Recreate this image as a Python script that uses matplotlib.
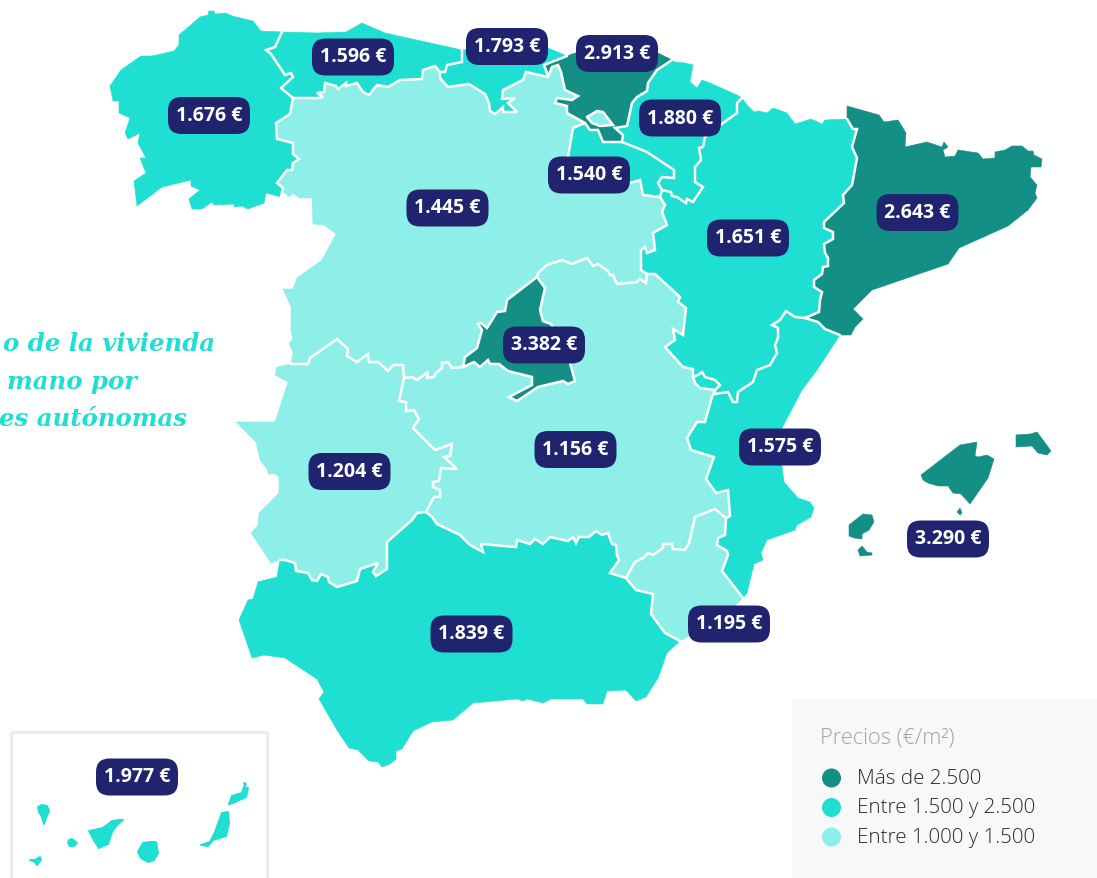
import matplotlib
matplotlib.use("Agg")
import matplotlib.pyplot as plt
from matplotlib.patches import Polygon, FancyBboxPatch, Circle, Rectangle

# --- Prices ---
regions = ["Galicia", "Asturias", "Cantabria", "País Vasco", "Navarra", "La Rioja", "Castilla y León",
           "Aragón", "Cataluña", "Madrid", "Castilla-La Mancha", "C. Valenciana", "Extremadura",
           "Baleares", "Murcia", "Andalucía", "Canarias"]
prices = [1676, 1596, 1793, 2913, 1880, 1540, 1445, 1651, 2643, 3382, 1156, 1575, 1204, 3290, 1195, 1839, 1977]
label_x = [209, 353, 507, 617, 680, 589, 447.5, 748, 917.5, 544, 575.5, 780, 349.5, 948, 729, 471.5, 137]
label_y = [115.5, 57, 46.5, 53.5, 118, 175, 208, 238, 212.5, 345, 449.5, 447, 471.5, 539, 624, 634, 777]

legend_labels = ["Más de 2.500", "Entre 1.500 y 2.500", "Entre 1.000 y 1.500"]
legend_colors = ["#148f85", "#1fded2", "#8eefe8"]
title_lines = ["o de la vivienda", "mano por", "es autónomas"]

# --- Outlines, in reference pixels. Shared borders are kept once ---
gal_coast = [(281, 197), (266, 193), (264, 203), (248, 209), (242, 206), (234, 207), (234, 204), (214, 205),
             (212, 202), (202, 209), (192, 209), (189, 199), (200, 190), (191, 186), (191, 180), (162, 187),
             (137, 206), (134, 181), (146, 173), (140, 158), (146, 158), (138, 143), (140, 133), (128, 139),
             (125, 133), (130, 118), (119, 113), (119, 101), (113, 101), (110, 86), (121, 70), (141, 56),
             (152, 56), (174, 51), (179, 45), (179, 35), (200, 17), (208, 15), (209, 11), (214, 11), (215, 14),
             (226, 13), (232, 16), (253, 21), (261, 31), (282, 32)]
gal_ast = [(282, 32), (275, 47), (266, 50), (271, 54), (285, 75), (291, 73), (293, 77), (281, 88), (293, 98)]
gal_cyl = [(293, 98), (290, 114), (276, 123), (277, 139), (293, 143), (293, 154), (299, 159), (293, 163),
           (292, 170), (287, 170), (277, 183), (283, 188), (281, 197)]
ast_coast = [(282, 32), (317, 33), (346, 32), (362, 23), (385, 33), (462, 50)]
ast_cant = [(462, 50), (462, 62), (447, 65), (445, 72), (440, 72)]
ast_cyl = [(440, 72), (435, 66), (423, 70), (422, 79), (400, 80), (388, 87), (377, 85), (369, 95), (363, 92),
           (357, 83), (346, 86), (346, 83), (338, 89), (336, 86), (325, 83), (324, 92), (317, 93), (323, 97),
           (318, 98), (293, 98)]
cant_coast = [(462, 50), (500, 45), (548, 48), (567, 56)]
cant_pv = [(567, 56), (544, 65), (547, 73), (548, 77)]
cant_cyl = [(548, 77), (526, 72), (523, 80), (503, 90), (502, 99), (515, 98), (508, 103), (517, 112), (503, 112),
            (503, 107), (495, 114), (490, 111), (489, 103), (485, 94), (469, 84), (448, 87), (440, 78), (440, 72)]
pv_coast = [(567, 56), (575, 53), (658, 53), (672, 60)]
pv_nav = [(672, 60), (657, 70), (648, 83), (647, 91), (637, 97), (632, 103), (627, 126), (615, 128), (623, 135),
          (622, 142)]
pv_rio = [(622, 142), (603, 142), (598, 130), (590, 130), (585, 123)]
pv_cyl = [(585, 123), (567, 113), (567, 106), (555, 103), (557, 98), (572, 100), (578, 96), (565, 90), (561, 72),
          (558, 65), (552, 67), (548, 77)]
trevino = [(587, 117), (597, 111), (603, 112), (613, 125), (600, 126), (592, 123)]
nav_coast = [(672, 60), (675, 62), (685, 63), (693, 65), (690, 82), (697, 88), (702, 80), (710, 83), (737, 95),
             (742, 98)]
nav_ara = [(742, 98), (737, 103), (737, 113), (723, 123), (705, 137), (703, 147), (699, 148), (701, 160), (695, 167),
           (695, 182), (703, 187), (693, 202), (687, 199), (686, 203), (677, 197), (672, 196), (671, 192), (662, 190)]
nav_rio = [(622, 142), (647, 152), (674, 170), (674, 178), (662, 177), (658, 183), (662, 190)]
rio_ara = [(662, 190), (660, 197)]
rio_cyl = [(660, 197), (643, 195), (640, 180), (630, 183), (568, 157), (573, 128), (585, 123)]
ara_coast = [(742, 98), (747, 105), (754, 112), (759, 111), (767, 113), (773, 108), (787, 113), (795, 124),
             (811, 119), (822, 124), (825, 120), (847, 119)]
ara_cat = [(847, 119), (853, 129), (857, 129), (852, 147), (857, 158), (852, 185), (843, 195), (844, 203), (824, 222),
           (824, 228), (833, 232), (833, 239), (824, 244), (825, 253), (828, 258), (828, 266), (823, 267), (822, 274),
           (814, 280), (814, 287), (822, 292), (820, 300), (819, 312), (805, 318)]
ara_val = [(805, 318), (795, 317), (786, 311), (780, 320), (772, 325), (778, 328), (778, 338), (775, 345), (777, 353),
           (770, 365), (757, 370), (753, 382), (738, 392), (737, 402), (733, 402), (728, 392), (715, 394), (715, 390)]
encl_ara = [(715, 390), (720, 385), (715, 380), (705, 377), (702, 372), (698, 375), (693, 377)]
encl_clm = [(693, 377), (695, 383), (700, 388), (715, 390)]
ara_clm = [(693, 377), (693, 369), (683, 367), (665, 347), (675, 340), (673, 329), (683, 335), (686, 308), (678, 302),
           (680, 297), (655, 274), (647, 274)]
ara_cyl = [(647, 274), (641, 270), (641, 250), (645, 247), (647, 253), (655, 250), (653, 233), (667, 225), (662, 212),
           (665, 205), (660, 197)]
cat_coast = [(847, 119), (847, 106), (879, 115), (884, 122), (898, 120), (906, 133), (905, 147), (927, 142), (942, 147),
             (944, 142), (948, 147), (943, 150), (945, 157), (955, 156), (958, 150), (978, 153), (983, 159), (995, 158),
             (995, 152), (1005, 150), (1012, 146), (1022, 146), (1028, 151), (1033, 151), (1034, 155), (1042, 159),
             (1041, 167), (1031, 167), (1030, 177), (1037, 185), (1035, 193), (1037, 198), (1028, 210), (1008, 226),
             (959, 248), (948, 264), (872, 290), (853, 309), (863, 319), (855, 327), (851, 335), (840, 335)]
cat_val = [(840, 335), (825, 329), (818, 322), (805, 318)]
val_coast = [(840, 335), (838, 338), (817, 370), (802, 390), (782, 428), (780, 445), (782, 467), (784, 482), (798, 498),
             (810, 502), (814, 508), (811, 517), (797, 525), (795, 530), (767, 540), (761, 553), (763, 560), (754, 564),
             (747, 593), (743, 598)]
val_mur = [(743, 598), (722, 571), (728, 555), (727, 551), (717, 545), (718, 538), (725, 535), (726, 518)]
val_clm = [(726, 518), (730, 516), (728, 490), (716, 493), (706, 479), (714, 457), (691, 450), (687, 438), (697, 422),
           (705, 422), (712, 397), (715, 390)]
mur_clm = [(626, 578), (635, 562), (643, 558), (648, 553), (653, 555), (663, 548), (663, 544), (672, 544), (673, 549),
           (685, 550), (689, 543), (695, 517), (715, 509), (726, 518)]
mur_coast = [(743, 598), (720, 620), (680, 641)]
mur_and = [(680, 641), (665, 633), (651, 614), (653, 594), (636, 590), (626, 578)]
and_ext = [(280, 560), (285, 560), (295, 563), (296, 571), (308, 573), (312, 580), (317, 581), (321, 574), (328, 577),
           (329, 582), (337, 587), (357, 581), (360, 569), (378, 563), (373, 572), (376, 576), (387, 569), (387, 542),
           (412, 520), (417, 513), (426, 512)]
and_clm = [(426, 512), (432, 517), (437, 524), (460, 535), (470, 545), (483, 552), (481, 544), (516, 547), (517, 540),
           (530, 544), (535, 539), (543, 544), (550, 537), (568, 541), (573, 537), (576, 543), (579, 537), (589, 537),
           (596, 531), (602, 535), (608, 533), (612, 544), (616, 545), (617, 555), (619, 560), (610, 573), (626, 578)]
and_coast = [(680, 641), (667, 653), (658, 678), (646, 697), (636, 701), (626, 690), (607, 691), (603, 704), (587, 704),
             (583, 699), (551, 699), (543, 703), (527, 699), (523, 701), (517, 699), (495, 701), (473, 703), (453, 720),
             (432, 722), (413, 731), (402, 749), (396, 751), (396, 759), (390, 764), (382, 767), (378, 762), (369, 761),
             (358, 750), (349, 748), (337, 730), (319, 699), (324, 692), (317, 679), (285, 658), (264, 655), (252, 658),
             (239, 620), (248, 600), (253, 599), (258, 582), (277, 577), (280, 560)]
ext_cyl = [(291, 364), (308, 364), (310, 358), (337, 339), (348, 349), (347, 356), (357, 362), (368, 354), (369, 362),
           (378, 362), (388, 371), (393, 365), (403, 365), (404, 378)]
ext_clm = [(404, 378), (399, 401), (406, 402), (406, 411), (414, 410), (419, 419), (413, 428), (435, 450), (452, 444),
           (450, 456), (444, 457), (457, 469), (441, 468), (439, 481), (433, 482), (433, 487), (440, 490), (440, 497),
           (434, 497), (426, 512)]
ext_coast = [(280, 560), (271, 563), (251, 533), (258, 525), (259, 513), (279, 493), (279, 477), (275, 474), (268, 474),
             (267, 469), (260, 460), (256, 442), (236, 422), (275, 422), (288, 382), (275, 375), (277, 367), (291, 364)]
cyl_clm1 = [(647, 274), (646, 283), (640, 279), (637, 282), (617, 284), (613, 275), (610, 275), (608, 271), (598, 264),
            (593, 266), (587, 258), (572, 264), (562, 260), (547, 265), (538, 273), (537, 277)]
cyl_mad = [(537, 277), (507, 300), (505, 311), (497, 312), (487, 328), (481, 323), (478, 324), (482, 330), (477, 348),
           (465, 357), (463, 367)]
cyl_clm2 = [(463, 367), (452, 368), (448, 362), (442, 363), (442, 368), (435, 374), (434, 377), (427, 378), (428, 372),
            (417, 380), (412, 377), (404, 378)]
mad_clm = [(463, 367), (474, 362), (480, 367), (488, 360), (490, 364), (499, 364), (508, 371), (532, 377), (532, 385),
           (509, 397), (517, 401), (538, 387), (563, 381), (568, 384), (575, 381), (570, 363), (551, 324), (543, 321),
           (540, 310), (545, 288), (537, 277)]
cyl_coast = [(291, 364), (293, 352), (289, 344), (293, 338), (291, 332), (291, 307), (283, 289), (293, 289), (297, 278),
             (322, 260), (336, 234), (324, 225), (313, 224), (312, 198), (299, 198), (293, 193), (290, 197), (283, 192),
             (281, 197)]

mallorca = [(921, 475), (960, 445), (977, 442), (975, 456), (978, 457), (987, 455), (994, 459), (988, 478), (970, 504),
            (961, 494), (953, 493), (948, 486), (938, 486), (928, 483), (923, 480)]
menorca = [(1016, 435), (1030, 434), (1037, 432), (1043, 440), (1051, 451), (1047, 455), (1038, 453), (1032, 446),
           (1016, 447)]
ibiza = [(849, 525), (863, 514), (872, 515), (874, 522), (869, 530), (862, 534), (862, 539), (854, 538), (849, 536)]
formentera = [(858, 550), (862, 546), (867, 552), (872, 553), (872, 555), (860, 556)]
cabrera = [(957, 512), (960, 508), (962, 513), (960, 515)]

la_palma = [(38, 807), (42, 805), (47, 806), (49, 811), (46, 818), (44, 824), (42, 817), (39, 812)]
el_hierro = [(30, 860), (35, 860), (40, 857), (41, 860), (37, 865), (35, 862)]
la_gomera = [(69, 840), (72, 839), (77, 843), (74, 846), (70, 846), (68, 843)]
tenerife = [(89, 831), (103, 828), (112, 821), (118, 820), (123, 820), (117, 825), (112, 832), (108, 844), (99, 848),
            (95, 842)]
gran_canaria = [(138, 852), (143, 843), (150, 842), (156, 842), (158, 853), (154, 860), (148, 862), (141, 858)]
fuerteventura = [(201, 845), (210, 842), (215, 832), (222, 813), (228, 812), (229, 823), (226, 836), (213, 840), (208, 846)]
lanzarote = [(229, 804), (232, 796), (242, 793), (244, 787), (248, 788), (246, 797), (233, 803)]
alegranza = [(244, 783), (246, 784), (245, 786)]


def rev(seg):
    return seg[::-1]


outlines = {
    "Galicia": [gal_ast + gal_cyl + gal_coast],
    "Asturias": [ast_coast + ast_cant + ast_cyl + rev(gal_ast)],
    "Cantabria": [cant_coast + cant_pv + cant_cyl + rev(ast_cant)],
    "País Vasco": [pv_coast + pv_nav + pv_rio + pv_cyl + rev(cant_pv)],
    "Navarra": [nav_coast + nav_ara + rev(nav_rio) + rev(pv_nav)],
    "La Rioja": [nav_rio + rio_ara + rio_cyl + rev(pv_rio)],
    "Castilla y León": [rev(ast_cyl) + rev(cant_cyl) + rev(pv_cyl) + rev(rio_cyl) + rev(ara_cyl) + cyl_clm1 + cyl_mad
                        + cyl_clm2 + rev(ext_cyl) + cyl_coast + rev(gal_cyl), trevino],
    "Aragón": [ara_coast + ara_cat + ara_val + encl_ara + ara_clm + ara_cyl + rev(rio_ara) + rev(nav_ara)],
    "Cataluña": [cat_coast + cat_val + rev(ara_cat)],
    "Madrid": [cyl_mad + mad_clm],
    "Castilla-La Mancha": [rev(cyl_clm1) + rev(ara_clm) + encl_clm + rev(val_clm) + rev(mur_clm) + rev(and_clm)
                           + rev(ext_clm) + rev(cyl_clm2) + mad_clm],
    "C. Valenciana": [val_coast + val_mur + val_clm + rev(ara_val) + rev(cat_val), encl_ara + encl_clm],
    "Extremadura": [ext_cyl + ext_clm + rev(and_ext) + ext_coast],
    "Baleares": [mallorca, menorca, ibiza, formentera, cabrera],
    "Murcia": [mur_clm + rev(val_mur) + mur_coast + mur_and],
    "Andalucía": [and_ext + and_clm + rev(mur_and) + and_coast],
    "Canarias": [la_palma, el_hierro, la_gomera, tenerife, gran_canaria, fuerteventura, lanzarote, alegranza],
}

inner_borders = [gal_ast, gal_cyl, ast_cant, ast_cyl, cant_pv, cant_cyl, pv_nav, pv_rio, pv_cyl, trevino + trevino[:1],
                 nav_ara, nav_rio, rio_ara, rio_cyl, ara_cat, ara_val, encl_ara, encl_clm, ara_clm, ara_cyl, cat_val,
                 val_mur, val_clm, mur_clm, mur_and, and_ext, and_clm, ext_cyl, ext_clm, cyl_clm1, cyl_mad, cyl_clm2,
                 mad_clm]


def price_color(value):
    if value > 2500:
        return legend_colors[0]
    if value > 1500:
        return legend_colors[1]
    return legend_colors[2]


def price_text(value):
    return f"{value // 1000}.{value % 1000:03d} €"


fig = plt.figure(figsize=(10.97, 8.79), dpi=100)
ax = fig.add_axes([0, 0, 1, 1])
ax.set_xlim(0, 1097)
ax.set_ylim(878, -1)
ax.axis("off")

# --- Map ---
for name, value in zip(regions, prices):
    col = price_color(value)
    # the islands are blobs in the original, a thicker round edge softens them
    edge = 1.4 if name == "Canarias" else 0.4
    for outline in outlines[name]:
        ax.add_patch(Polygon(outline, closed=True, fc=col, ec=col, lw=edge, joinstyle="round",
                             zorder=2 if outline is not trevino else 3))

for seg in inner_borders:
    xs, ys = zip(*seg)
    ax.plot(xs, ys, color="white", lw=1.8, solid_joinstyle="miter", solid_capstyle="round", zorder=4)

# --- Canarias inset frame ---
ax.add_patch(Rectangle((10.5, 731.5), 256.5, 160, fc="none", ec="#ececec", lw=2.2, zorder=1))

# --- Price labels ---
box_w, box_h = 82, 37
for value, x, y in zip(prices, label_x, label_y):
    ax.add_patch(FancyBboxPatch((x - box_w / 2, y - box_h / 2), box_w, box_h,
                                boxstyle="round,pad=0,rounding_size=13.5", fc="#20246f", ec="none", zorder=5))
    ax.text(x, y - 0.5, price_text(value), color="white", fontsize=14, fontweight="bold", family="Open Sans",
            ha="center", va="center", zorder=6)

# --- Title fragment, the rest is off the page in the original ---
for line, x, y in zip(title_lines, [215, 137, 187], [343, 381, 418]):
    ax.text(x, y, line, color="#1fded2", fontsize=17.6, fontstyle="italic", fontweight="semibold", family="DejaVu Serif",
            ha="right", va="center", zorder=3)

# --- Legend ---
ax.add_patch(Rectangle((792, 699), 305, 180, fc="#f8f8f8", ec="none", zorder=1))
ax.text(820, 737, "Precios (€/m²)", color="#a3a3a3", fontsize=15.7, fontweight="light", family="Open Sans",
        ha="left", va="center", zorder=2)
for col, lab, y in zip(legend_colors, legend_labels, [778, 807.5, 837]):
    ax.add_patch(Circle((831.5, y), 9.5, fc=col, ec="none", zorder=2))
    ax.text(857, y, lab, color="#2a2a2a", fontsize=14.8, fontweight="light", family="Open Sans",
            ha="left", va="center", zorder=2)

fig.savefig("out.png", dpi=100)
